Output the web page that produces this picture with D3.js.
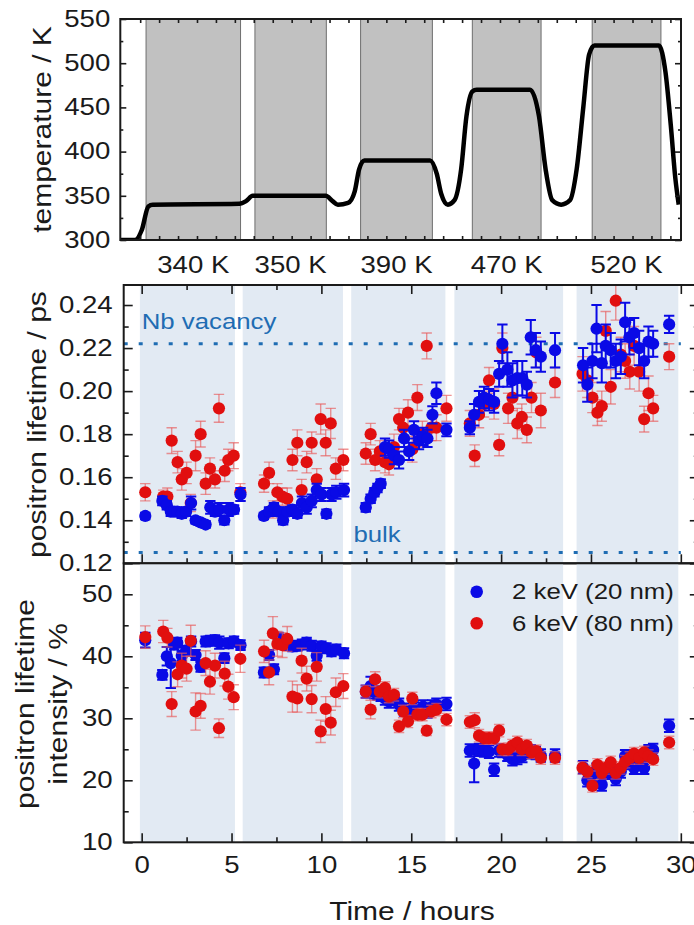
<!DOCTYPE html>
<html>
<head>
<meta charset="utf-8">
<script src="https://cdn.jsdelivr.net/npm/d3@7"></script>
<style>
  body { margin: 0; background: #fff; }
  svg { display: block; }
  text { font-family: "Liberation Sans", Arial, sans-serif; }
</style>
</head>
<body>
<div id="chart"></div>
<script>
// ---- temperature programme (top panel) ----
const stepBands = [[0.31, 5.30], [6.06, 9.83], [11.64, 15.43], [17.54, 21.17], [23.87, 27.50]];
const stepLabels = ["340 K", "350 K", "390 K", "470 K", "520 K"];
const tempTime = [-1.05, -0.27, 0.08, 0.43, 0.66, 5.23, 5.59, 5.94, 9.8, 10.16, 10.44, 10.98, 11.33, 11.56, 11.84,
  15.31, 15.66, 15.9, 16.25, 16.6, 16.95, 17.23, 17.54, 17.77, 20.59, 21.06, 21.41, 21.76, 22.23, 22.7, 23.05,
  23.4, 23.71, 23.99, 27.39, 27.74, 28.02, 28.26, 28.44];
const tempK = [300, 300, 311, 338, 340, 341, 344, 350, 350, 344, 340, 342, 355, 380, 390,
  390, 375, 352, 340, 345, 380, 440, 468, 470, 470, 440, 380, 345, 340, 345, 380,
  450, 510, 520, 520, 490, 430, 370, 340];
const tempTicks = [300, 350, 400, 450, 500, 550];

// ---- annealing intervals (lower panels) ----
const annealBands = [[-0.1, 5.19], [5.62, 11.2], [11.66, 16.9], [17.4, 23.45], [24.2, 29.86]];
const vacancyLife = 0.222;
const bulkLife = 0.125;
const timeTicks = [0, 5, 10, 15, 20, 25, 30];
const lifeTicks = [0.12, 0.14, 0.16, 0.18, 0.20, 0.22, 0.24];
const intTicks = [10, 20, 30, 40, 50];
const legendLabels = ["2 keV (20 nm)", "6 keV (80 nm)"];

// ---- 2 keV (20 nm) ----
const t2 = [
  0.2, 1.15, 1.4, 1.62, 1.8, 1.98, 2.23, 2.47, 2.75, 3.0, 3.28, 3.56, 3.82, 4.08, 4.32, 4.6, 4.84, 5.14, 5.5,
  6.8, 7.09, 7.36, 7.62, 7.87, 8.12, 8.39, 8.66, 8.92, 9.18, 9.46, 9.74, 10.0, 10.28, 10.56, 10.83, 11.26,
  12.47, 12.74, 12.95, 13.12, 13.3, 13.54, 13.76, 14.04, 14.32, 14.6, 14.88, 15.15, 15.43, 15.66, 15.9, 16.18, 16.4, 16.96,
  18.26, 18.5, 18.77, 19.05, 19.33, 19.61, 19.89, 20.07, 20.35, 20.63, 20.9, 21.18, 21.43, 21.65, 21.93, 22.21, 23.0,
  24.56, 24.8, 25.08, 25.31, 25.6, 25.82, 26.1, 26.38, 26.66, 26.9, 27.14, 27.4, 27.68, 27.96, 28.2, 28.46, 29.35];
const life2 = [
  .142, .149, .147, .144, .144, .144, .143, .144, .148, .140, .139, .138, .146, .144, .145, .140, .145, .145, .152,
  .142, .144, .146, .144, .140, .144, .145, .143, .148, .146, .149, .154, .152, .143, .152, .153, .154,
  .146, .150, .153, .155, .157, .174, .173, .170, .168, .178, .172, .182, .177, .179, .178, .189, .199, .182,
  .183, .189, .195, .197, .196, .195, .208, .222, .210, .205, .206, .206, .203, .225, .219, .216, .219,
  .212, .203, .214, .229, .213, .221, .219, .214, .216, .232, .225, .227, .220, .214, .223, .222, .231];
const life2Err = [
  .0015, .002, .002, .002, .002, .002, .002, .002, .003, .0015, .0015, .0015, .003, .002, .003, .002, .003, .002, .003,
  .0015, .002, .002, .002, .002, .002, .002, .002, .003, .003, .003, .003, .003, .002, .003, .003, .003,
  .002, .002, .002, .002, .002, .004, .004, .004, .004, .004, .004, .004, .004, .004, .004, .004, .005, .003,
  .003, .005, .005, .005, .005, .005, .006, .009, .008, .008, .008, .008, .006, .008, .008, .007, .008,
  .008, .008, .008, .011, .009, .010, .008, .008, .008, .009, .008, .007, .008, .008, .007, .006, .004];
const int2 = [
  42.6, 37.0, 40.0, 38.9, 41.9, 42.2, 40.1, 40.9, 42.4, 40.2, 38.3, 42.4, 42.5, 42.6, 42.2, 39.7, 42.1, 42.4, 41.8,
  37.4, 40.2, 37.9, 43.0, 42.6, 41.8, 41.6, 41.7, 41.9, 42.2, 41.7, 40.1, 41.6, 41.3, 40.8, 41.1, 40.5,
  34.3, 35.2, 34.2, 34.0, 33.8, 33.2, 32.7, 33.2, 32.2, 31.4, 31.1, 31.6, 31.1, 31.9, 31.1, 31.9, 32.2, 32.3,
  24.8, 22.7, 24.9, 24.8, 24.6, 21.7, 24.8, 24.7, 24.1, 23.4, 23.6, 23.9, 24.5, 24.7, 24.4, 24.0, 24.0,
  22.1, 20.0, 20.9, 21.7, 19.3, 21.2, 21.4, 20.2, 21.4, 23.9, 22.8, 22.0, 23.3, 22.0, 24.7, 24.9, 28.8];
const int2Err = [
  1.2, 0.8, 1.5, 4.0, 0.8, 0.8, 0.8, 0.8, 0.8, 0.8, 0.8, 0.8, 0.8, 0.8, 1.0, 0.8, 0.8, 0.8, 0.8,
  0.8, 0.8, 0.8, 0.8, 0.8, 0.8, 0.8, 0.8, 0.8, 0.8, 0.8, 0.8, 0.8, 0.8, 0.8, 0.8, 0.8,
  1.0, 1.5, 1.0, 1.0, 1.0, 1.0, 1.0, 1.0, 1.0, 1.0, 1.0, 1.0, 1.0, 1.0, 1.0, 1.0, 1.0, 1.0,
  1.0, 3.0, 1.0, 1.0, 1.0, 1.0, 1.0, 1.0, 1.0, 1.0, 1.0, 1.0, 1.0, 1.0, 1.0, 1.0, 1.0,
  1.0, 1.0, 1.0, 1.0, 1.0, 1.0, 1.0, 1.0, 1.0, 1.0, 1.0, 1.0, 1.0, 1.0, 1.0, 1.0, 1.0];

// ---- 6 keV (80 nm) ----
const t6 = [
  0.2, 1.2, 1.43, 1.67, 2.0, 2.23, 2.5, 2.73, 3.0, 3.28, 3.56, 3.8, 4.08, 4.3, 4.62, 4.82, 5.12, 5.49,
  6.81, 7.09, 7.3, 7.55, 7.83, 8.1, 8.39, 8.66, 8.9, 9.18, 9.46, 9.74, 9.96, 10.24, 10.52, 10.8, 11.22,
  12.47, 12.74, 12.99, 13.25, 13.54, 13.76, 14.04, 14.32, 14.55, 14.82, 15.06, 15.34, 15.62, 15.86, 16.12, 16.4, 16.96,
  18.26, 18.53, 18.77, 19.05, 19.33, 19.61, 19.89, 20.07, 20.39, 20.63, 20.9, 21.15, 21.43, 21.69, 21.96, 22.21, 23.0,
  24.53, 24.8, 25.08, 25.36, 25.6, 25.82, 26.1, 26.38, 26.66, 26.9, 27.16, 27.4, 27.68, 27.96, 28.2, 28.46, 29.35];
const life6 = [
  .153, .151, .151, .177, .167, .159, .162, .148, .170, .180, .157, .164, .159, .192, .163, .168, .170, .153,
  .157, .162, .145, .153, .151, .150, .168, .176, .154, .167, .176, .159, .187, .176, .185, .164, .168,
  .171, .180, .168, .172, .167, .166, .174, .187, .183, .190, .173, .197, .180, .221, .183, .183, .192,
  .185, .170, .189, .194, .205, .194, .175, .220, .192, .197, .185, .188, .182, .197, .218, .191, .204,
  .208, .205, .197, .190, .193, .228, .202, .242, .217, .214, .209, .221, .209, .187, .199, .192, .216];
const life6Err = [
  .004, .003, .004, .006, .005, .005, .005, .004, .007, .006, .005, .005, .004, .0065, .005, .005, .006, .004,
  .004, .005, .004, .004, .004, .005, .005, .006, .005, .005, .005, .005, .007, .006, .007, .005, .005,
  .005, .005, .005, .005, .005, .005, .006, .005, .006, .006, .006, .006, .006, .006, .006, .006, .006,
  .006, .005, .006, .006, .006, .007, .005, .007, .007, .006, .007, .006, .006, .007, .007, .008, .007,
  .008, .008, .007, .006, .007, .009, .008, .009, .008, .008, .008, .009, .009, .006, .008, .006, .006];
const int6 = [
  43.1, 44.0, 43.0, 32.3, 37.1, 38.5, 38.0, 42.5, 31.1, 32.0, 38.9, 35.9, 38.5, 28.4, 37.2, 35.1, 33.4, 39.6,
  40.8, 37.4, 43.7, 42.0, 41.8, 42.8, 33.5, 33.2, 39.3, 36.4, 33.1, 38.3, 27.9, 31.5, 29.3, 34.2, 35.2,
  34.3, 31.4, 36.3, 34.3, 34.9, 33.5, 33.8, 28.7, 31.1, 29.5, 33.2, 30.6, 30.6, 28.0, 31.1, 31.4, 29.8,
  29.4, 29.7, 27.2, 26.8, 26.8, 26.8, 28.0, 25.0, 25.0, 25.6, 26.1, 25.0, 25.6, 24.5, 24.7, 23.6, 23.6,
  22.0, 21.4, 19.1, 22.5, 21.2, 22.0, 22.9, 21.2, 22.0, 23.0, 23.6, 24.3, 23.6, 24.5, 23.9, 23.4, 26.1];
const int6Err = [
  1.8, 1.8, 1.5, 2.0, 2.0, 2.0, 2.0, 2.5, 3.0, 2.0, 2.0, 2.0, 2.0, 1.5, 2.0, 2.0, 2.0, 2.2,
  1.8, 2.0, 2.7, 2.0, 2.0, 2.0, 2.5, 2.2, 2.0, 2.0, 2.2, 2.3, 1.8, 2.0, 2.0, 2.3, 2.0,
  1.0, 1.5, 1.2, 1.0, 1.0, 1.0, 1.0, 1.0, 1.0, 1.0, 1.0, 1.0, 1.0, 0.8, 1.0, 1.0, 1.0,
  1.0, 1.2, 1.0, 1.0, 1.0, 1.0, 1.0, 1.0, 1.0, 1.0, 1.0, 1.0, 1.0, 1.0, 1.0, 1.0, 1.0,
  1.0, 1.0, 1.0, 1.0, 1.0, 1.0, 1.0, 1.0, 1.0, 1.0, 1.0, 1.0, 1.0, 1.0, 1.0, 1.0, 1.0];

const SX = 1.2;            // text in the figure is drawn a bit wide
const BLUE = "#0a0ae6", RED = "#e10f0f", REFBLUE = "#1f6db3", INK = "#1a1a1a";

const svg = d3.select("#chart").append("svg").attr("width", 694).attr("height", 925);

// stretched text helper
function label(g, x, y, str, size, o) {
  o = o || {};
  return g.append("text")
    .attr("transform", `translate(${x},${y})` + (o.rotate ? ` rotate(${o.rotate})` : "") + ` scale(${SX},1)`)
    .attr("font-size", size)
    .attr("text-anchor", o.anchor || "start")
    .attr("dominant-baseline", o.baseline || "auto")
    .attr("fill", o.fill || INK)
    .text(str);
}

// inward ticks; labels only when fmt given
function axis(g, fn, scale, ticks, size, fmt, transform, pad) {
  const a = fn(scale).tickValues(ticks).tickSize(-size).tickPadding(pad || 11);
  a.tickFormat(fmt || (() => ""));
  const ax = g.append("g").attr("transform", transform || null).call(a);
  ax.select(".domain").remove();
  ax.attr("font-size", 23).attr("font-family", '"Liberation Sans", Arial, sans-serif');
  ax.selectAll("line").attr("stroke", INK).attr("stroke-width", 1.6);
  ax.selectAll("text").attr("fill", INK).each(function() {
    const t = d3.select(this);
    const x = +t.attr("x") || 0;
    t.attr("x", x / SX).attr("transform", `scale(${SX},1)`);
  });
  return ax;
}

function frame(g, x0, y0, x1, y1) {
  g.append("rect").attr("x", x0).attr("y", y0).attr("width", x1 - x0).attr("height", y1 - y0)
    .attr("fill", "none").attr("stroke", INK).attr("stroke-width", 2);
}

// ================= top panel: temperature =================
const xT = d3.scaleLinear().domain([-1.05, 28.56]).range([120.3, 681]);
const yT = d3.scaleLinear().domain([300, 550]).range([240, 19]);
const gT = svg.append("g");

svg.append("clipPath").attr("id", "clipT").append("rect")
  .attr("x", 120.3).attr("y", 19).attr("width", 681 - 120.3).attr("height", 240 - 19);

gT.selectAll("rect.step").data(stepBands).enter().append("rect")
  .attr("class", "step")
  .attr("x", d => xT(d[0])).attr("width", d => xT(d[1]) - xT(d[0]))
  .attr("y", 19).attr("height", 240 - 19)
  .attr("fill", "#c1c1c1").attr("stroke", "#6e6e6e").attr("stroke-width", 1);

const tempLine = d3.line().x((d, i) => xT(tempTime[i])).y(d => yT(d)).curve(d3.curveMonotoneX);
gT.append("path").datum(tempK).attr("d", tempLine).attr("clip-path", "url(#clipT)")
  .attr("fill", "none").attr("stroke", "#000").attr("stroke-width", 4.5).attr("stroke-linejoin", "round");

frame(gT, 120.3, 19, 681, 240);
axis(gT, d3.axisLeft, yT, tempTicks, 6, d3.format("d"), "translate(120.3,0)", 10);
axis(gT, d3.axisLeft, yT, d3.range(325, 550, 50), 3, null, "translate(120.3,0)");
axis(gT, d3.axisRight, yT, tempTicks, 6, null, "translate(681,0)");
axis(gT, d3.axisRight, yT, d3.range(325, 550, 50), 3, null, "translate(681,0)");
axis(gT, d3.axisBottom, xT, d3.range(0, 29), 4, null, "translate(0,240)");
axis(gT, d3.axisTop, xT, d3.range(0, 29), 4, null, "translate(0,19)");

label(svg, 50.5, 129.5, "temperature / K", 25, { rotate: -90, anchor: "middle" });
stepLabels.forEach((s, i) => {
  label(svg, xT((stepBands[i][0] + stepBands[i][1]) / 2), 273.3, s, 23, { anchor: "middle" });
});

// ================= lower panels =================
const xM = d3.scaleLinear().domain([-1, 31]).range([123.7, 698.8]);
const yL = d3.scaleLinear().domain([0.12, 0.2493]).range([563.3, 285]);
const yI = d3.scaleLinear().domain([10, 55]).range([842.3, 563.3]);

function panel(id, y0, y1) {
  const g = svg.append("g");
  svg.append("clipPath").attr("id", id).append("rect")
    .attr("x", xM.range()[0]).attr("y", y0).attr("width", xM.range()[1] - xM.range()[0]).attr("height", y1 - y0);
  g.selectAll("rect.band").data(annealBands).enter().append("rect")
    .attr("class", "band")
    .attr("x", d => xM(d[0])).attr("width", d => xM(d[1]) - xM(d[0]))
    .attr("y", y0).attr("height", y1 - y0).attr("fill", "#e2eaf3");
  return g;
}

function series(g, clip, t, v, e, y, color, bar, barW) {
  const gs = g.append("g").attr("clip-path", `url(#${clip})`);
  const idx = d3.range(t.length);
  gs.selectAll("line.eb").data(idx).enter().append("line")
    .attr("x1", i => xM(t[i])).attr("x2", i => xM(t[i]))
    .attr("y1", i => y(v[i] - e[i])).attr("y2", i => y(v[i] + e[i]))
    .attr("stroke", bar).attr("stroke-width", barW);
  [-1, 1].forEach(s => {
    gs.selectAll(null).data(idx).enter().append("line")
      .attr("x1", i => xM(t[i]) - 5.2).attr("x2", i => xM(t[i]) + 5.2)
      .attr("y1", i => y(v[i] + s * e[i])).attr("y2", i => y(v[i] + s * e[i]))
      .attr("stroke", bar).attr("stroke-width", barW);
  });
  gs.selectAll("circle").data(idx).enter().append("circle")
    .attr("cx", i => xM(t[i])).attr("cy", i => y(v[i])).attr("r", 6.1)
    .attr("fill", color);
}

// ---- middle: lifetime ----
const gL = panel("clipL", 285, 563.3);
[vacancyLife, bulkLife].forEach(v => {
  gL.append("line").attr("x1", xM(-1)).attr("x2", xM(30)).attr("y1", yL(v)).attr("y2", yL(v))
    .attr("stroke", REFBLUE).attr("stroke-width", 3).attr("stroke-dasharray", "4,11");
});
label(gL, xM(0), yL(0.2289), "Nb vacancy", 21.5, { fill: REFBLUE });
label(gL, xM(11.78), yL(0.130), "bulk", 21.5, { fill: REFBLUE });
series(gL, "clipL", t6, life6, life6Err, yL, RED, "rgba(232,90,90,0.65)", 1.4);
series(gL, "clipL", t2, life2, life2Err, yL, BLUE, BLUE, 2);
frame(gL, 123.7, 285, 698.8, 563.3);
axis(gL, d3.axisLeft, yL, lifeTicks, 9, d3.format(".2f"), "translate(123.7,0)");
axis(gL, d3.axisLeft, yL, d3.range(0.13, 0.25, 0.02), 5, null, "translate(123.7,0)");
axis(gL, d3.axisRight, yL, lifeTicks, 9, null, "translate(698.8,0)");
axis(gL, d3.axisRight, yL, d3.range(0.13, 0.25, 0.02), 5, null, "translate(698.8,0)");
axis(gL, d3.axisTop, xM, timeTicks, 9, null, "translate(0,285)");
axis(gL, d3.axisTop, xM, d3.range(2.5, 31, 5), 5, null, "translate(0,285)");
axis(gL, d3.axisBottom, xM, timeTicks, 9, null, "translate(0,563.3)");
axis(gL, d3.axisBottom, xM, d3.range(2.5, 31, 5), 5, null, "translate(0,563.3)");
label(svg, 46, 424.5, "positron lifetime / ps", 25, { rotate: -90, anchor: "middle" });

// ---- bottom: intensity ----
const gI = panel("clipI", 563.3, 842.3);
series(gI, "clipI", t2, int2, int2Err, yI, BLUE, BLUE, 2);
series(gI, "clipI", t6, int6, int6Err, yI, RED, "rgba(232,90,90,0.65)", 1.4);
frame(gI, 123.7, 563.3, 698.8, 842.3);
axis(gI, d3.axisLeft, yI, intTicks, 9, d3.format("d"), "translate(123.7,0)");
axis(gI, d3.axisLeft, yI, d3.range(15, 55, 10), 5, null, "translate(123.7,0)");
axis(gI, d3.axisRight, yI, intTicks, 9, null, "translate(698.8,0)");
axis(gI, d3.axisRight, yI, d3.range(15, 55, 10), 5, null, "translate(698.8,0)");
axis(gI, d3.axisBottom, xM, timeTicks, 9, d3.format("d"), "translate(0,842.3)", 14);
axis(gI, d3.axisBottom, xM, d3.range(2.5, 31, 5), 5, null, "translate(0,842.3)");
label(svg, 33.5, 704, "positron lifetime", 25, { rotate: -90, anchor: "middle" });
label(svg, 67, 704, "intensity / %", 25, { rotate: -90, anchor: "middle" });
label(svg, 412, 919.5, "Time / hours", 25, { anchor: "middle" });

// legend
[BLUE, RED].forEach((c, i) => {
  const yy = 591.7 + i * 31.6;
  gI.append("circle").attr("cx", 476.7).attr("cy", yy).attr("r", 6.3).attr("fill", c);
  label(gI, 512, yy, legendLabels[i], 21.5, { baseline: "central" });
});
</script>
</body>
</html>
